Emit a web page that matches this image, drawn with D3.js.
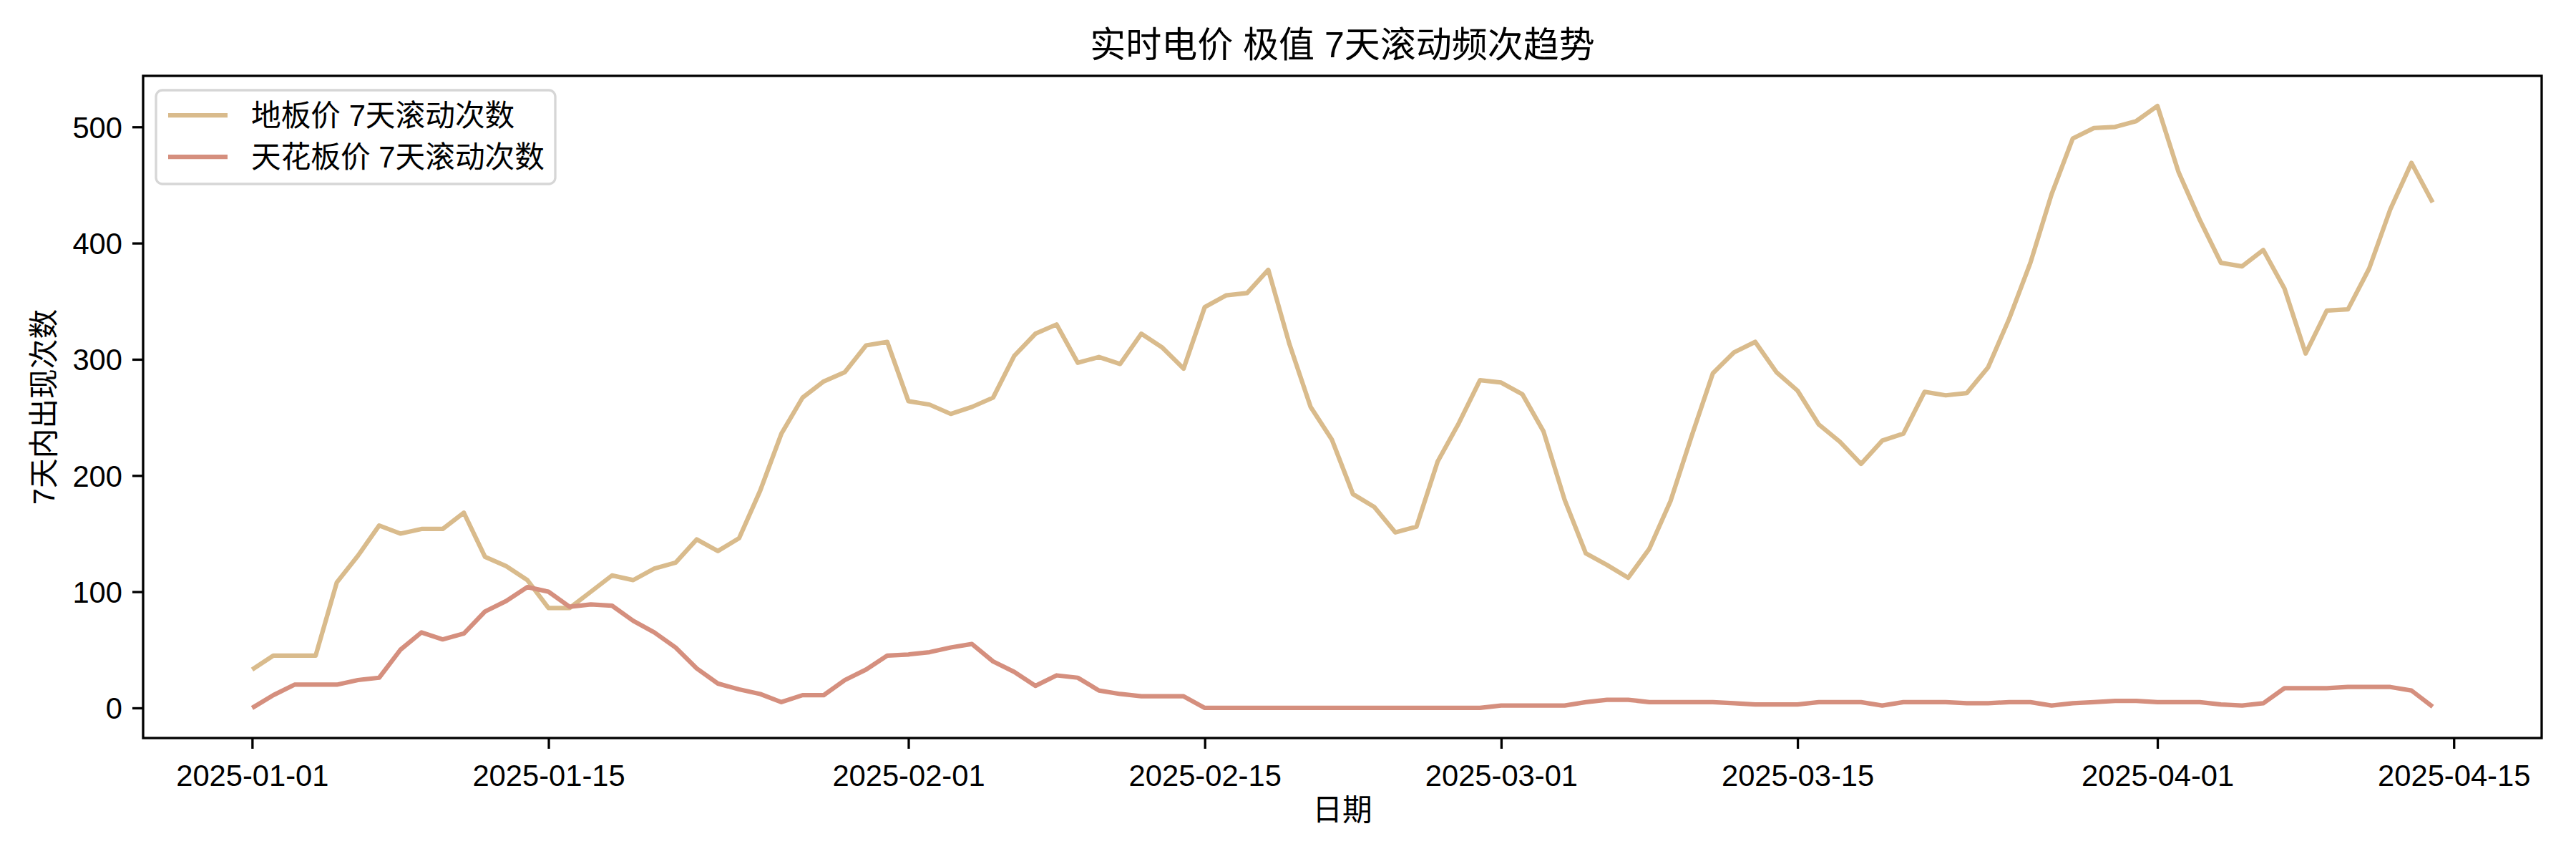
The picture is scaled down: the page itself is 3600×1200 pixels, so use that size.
<!DOCTYPE html>
<html>
<head>
<meta charset="utf-8">
<script src="https://cdn.jsdelivr.net/npm/d3@7"></script>
<style>
  body { margin: 0; background: #fff; }
  text { font-family: "Liberation Sans", Arial, "Noto Sans CJK SC", sans-serif; fill: #000; }
</style>
</head>
<body>
<script>
// daily data, 2025-01-01 .. 2025-04-14
var startDate = "2025-01-01";

var floorCounts = [33,45,45,45,108,131,157,150,154,154,168,130,122,110,86,86,100,114,110,120,
                   125,145,135,146,187,236,267,281,289,312,315,264,261,253,259,267,303,322,330,297,
                   302,296,322,310,292,345,355,357,377,313,259,231,184,173,151,156,212,245,282,280,
                   270,238,179,133,123,112,137,178,234,288,306,315,289,273,244,229,210,230,236,272,
                   269,271,293,335,383,442,490,499,500,505,518,461,420,383,380,394,361,305,342,343,
                   378,429,469,435];

var ceilCounts = [0,11,20,20,20,24,26,50,65,59,64,83,92,104,100,87,89,88,75,65,
                  52,34,21,16,12,5,11,11,24,33,45,46,48,52,55,40,31,19,28,26,
                  15,12,10,10,10,0,0,0,0,0,0,0,0,0,0,0,0,0,0,2,
                  2,2,2,5,7,7,5,5,5,5,4,3,3,3,5,5,5,2,5,5,
                  5,4,4,5,5,2,4,5,6,6,5,5,5,3,2,4,17,17,17,18,
                  18,18,15,1];

var seriesNames = ["地板价 7天滚动次数", "天花板价 7天滚动次数"];
var seriesColors = ["#d9bb8c", "#d58f7e"];

var xTickLabels = ["2025-01-01","2025-01-15","2025-02-01","2025-02-15","2025-03-01","2025-03-15","2025-04-01","2025-04-15"];
var yTickValues = [0,100,200,300,400,500];

var titleText = "实时电价 极值 7天滚动频次趋势";
var xLabelText = "日期";
var yLabelText = "7天内出现次数";

var width = 3600;
var height = 1200;
var margin = {top: 106, left: 200, right: 48, bottom: 169};

var parse = d3.timeParse("%Y-%m-%d");
var start = parse(startDate);
var dates = floorCounts.map(function(v, i) { return d3.timeDay.offset(start, i); });

var svg = d3.select("body")
        .append("svg")
        .attr("width", width)
        .attr("height", height);

// matplotlib style 5% margins
var t0 = dates[0].getTime(), t1 = dates[dates.length - 1].getTime();
var tPad = (t1 - t0) * 0.05;
var xScale = d3.scaleTime()
           .domain([new Date(t0 - tPad), new Date(t1 + tPad)])
           .range([margin.left, width - margin.right]);

var yMax = d3.max(floorCounts.concat(ceilCounts));
var yMin = d3.min(floorCounts.concat(ceilCounts));
var yPad = (yMax - yMin) * 0.05;
var yScale = d3.scaleLinear()
           .domain([yMin - yPad, yMax + yPad])
           .range([height - margin.bottom, margin.top]);

var line = d3.line()
        .x(function(d) { return xScale(d.date); })
        .y(function(d) { return yScale(d.v); });

var allSeries = [floorCounts, ceilCounts];
allSeries.forEach(function(vals, k) {
    svg.append("path")
        .datum(vals.map(function(v, i) { return {date: dates[i], v: v}; }))
        .attr("fill", "none")
        .attr("stroke", seriesColors[k])
        .attr("stroke-width", 6.25)
        .attr("stroke-linejoin", "round")
        .attr("stroke-linecap", "butt")
        .attr("d", line);
});

// axes
var xAxis = svg.append("g")
        .attr("transform", `translate(0,${height - margin.bottom})`)
        .call(d3.axisBottom(xScale)
            .tickValues(xTickLabels.map(parse))
            .tickFormat(d3.timeFormat("%Y-%m-%d"))
            .tickSize(15).tickPadding(14));

var yAxis = svg.append("g")
        .attr("transform", `translate(${margin.left},0)`)
        .call(d3.axisLeft(yScale)
            .tickValues(yTickValues)
            .tickSize(15).tickPadding(14));

[xAxis, yAxis].forEach(function(ax) {
    ax.select(".domain").remove();
    ax.selectAll(".tick line").attr("stroke", "#000").attr("stroke-width", 3.3);
    ax.selectAll(".tick text").style("font-size", "41.7px").attr("fill", "#000");
});
xAxis.selectAll(".tick text").attr("dy", "0.9em");
yAxis.selectAll(".tick text").attr("dy", "0.36em");

// frame
svg.append("rect")
    .attr("x", margin.left)
    .attr("y", margin.top)
    .attr("width", width - margin.left - margin.right)
    .attr("height", height - margin.top - margin.bottom)
    .attr("fill", "none")
    .attr("stroke", "#000")
    .attr("stroke-width", 3.3);

// titles
svg.append("text")
    .attr("x", (margin.left + width - margin.right) / 2)
    .attr("y", 80)
    .attr("text-anchor", "middle")
    .style("font-size", "50px")
    .text(titleText);

svg.append("text")
    .attr("x", (margin.left + width - margin.right) / 2)
    .attr("y", 1146)
    .attr("text-anchor", "middle")
    .style("font-size", "41.7px")
    .text(xLabelText);

svg.append("text")
    .attr("transform", "rotate(-90)")
    .attr("x", -(margin.top + height - margin.bottom) / 2)
    .attr("y", 76)
    .attr("text-anchor", "middle")
    .style("font-size", "41.7px")
    .text(yLabelText);

// legend
var legend = svg.append("g").attr("transform", "translate(218,126)");
legend.append("rect")
    .attr("width", 558)
    .attr("height", 131)
    .attr("rx", 9)
    .attr("fill", "#fff")
    .attr("fill-opacity", 0.8)
    .attr("stroke", "#d6d6d6")
    .attr("stroke-width", 3.3);

seriesNames.forEach(function(name, k) {
    var cy = 35 + k * 58;
    legend.append("line")
        .attr("x1", 17).attr("x2", 100)
        .attr("y1", cy).attr("y2", cy)
        .attr("stroke", seriesColors[k])
        .attr("stroke-width", 6.25);
    legend.append("text")
        .attr("x", 133)
        .attr("y", cy + 15)
        .style("font-size", "41.7px")
        .text(name);
});
</script>
</body>
</html>
